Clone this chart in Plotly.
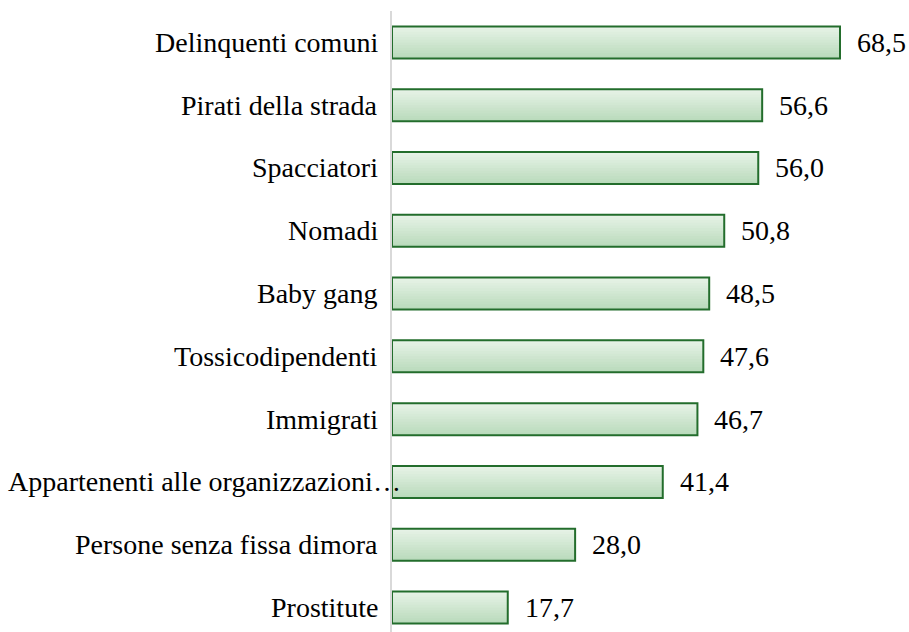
import plotly.graph_objects as go

categories = [
    "Delinquenti comuni",
    "Pirati della strada",
    "Spacciatori",
    "Nomadi",
    "Baby gang",
    "Tossicodipendenti",
    "Immigrati",
    "Appartenenti alle organizzazioni…",
    "Persone senza fissa dimora",
    "Prostitute",
]
values = [68.5, 56.6, 56.0, 50.8, 48.5, 47.6, 46.7, 41.4, 28.0, 17.7]

FONT = "Liberation Serif, Times New Roman, serif"
BAR_W = 0.51
TOP_RGB = (230, 242, 230)
BOT_RGB = (186, 219, 188)
N_SLICES = 12

fig = go.Figure()
# vertical gradient fill built from overlapping thin slices of the same bars
slice_w = BAR_W / N_SLICES
for i in range(N_SLICES):
    t = i / (N_SLICES - 1)
    r, g, b = (round(TOP_RGB[k] + (BOT_RGB[k] - TOP_RGB[k]) * t) for k in range(3))
    start = -BAR_W / 2 + i * slice_w
    fig.add_trace(go.Bar(
        x=values, y=categories, orientation="h",
        width=min(slice_w * 1.6, BAR_W / 2 - start),
        offset=start,
        marker=dict(color=f"rgb({r},{g},{b})", line=dict(width=0)),
        hoverinfo="skip",
    ))
# outline
fig.add_trace(go.Bar(
    x=values, y=categories, orientation="h",
    width=BAR_W, offset=-BAR_W / 2,
    marker=dict(color="rgba(0,0,0,0)", line=dict(color="#236d2c", width=2)),
    hoverinfo="x+y",
))

annotations = []
for cat, val in zip(categories, values):
    annotations.append(dict(
        x=val, y=cat, xref="x", yref="y",
        text=f"{val:.1f}".replace(".", ","),
        showarrow=False, xanchor="left", xshift=15,
        font=dict(family=FONT, size=28, color="#000000"),
    ))
    overflow = cat.endswith("…")
    annotations.append(dict(
        x=0, y=cat, xref="x", yref="y",
        text=cat,
        showarrow=False, xanchor="right", xshift=(11 if overflow else -12),
        font=dict(family=FONT, size=28, color="#000000"),
    ))

fig.update_layout(
    width=909, height=632,
    margin=dict(l=392, r=0, t=11, b=0),
    paper_bgcolor="white", plot_bgcolor="white",
    showlegend=False,
    barmode="overlay",
    annotations=annotations,
    xaxis=dict(range=[0, 79.05], showgrid=False, zeroline=False,
               showticklabels=False, showline=False, ticks=""),
    yaxis=dict(type="category", range=[9.39, -0.5], showgrid=False,
               zeroline=False, showticklabels=False, ticks="",
               showline=True, linecolor="#d9d9d9", linewidth=2),
)

fig.write_html(
    "out.html",
    config={"displayModeBar": False},
    post_script="document.body.style.margin='0';document.body.style.overflow='hidden';",
)
